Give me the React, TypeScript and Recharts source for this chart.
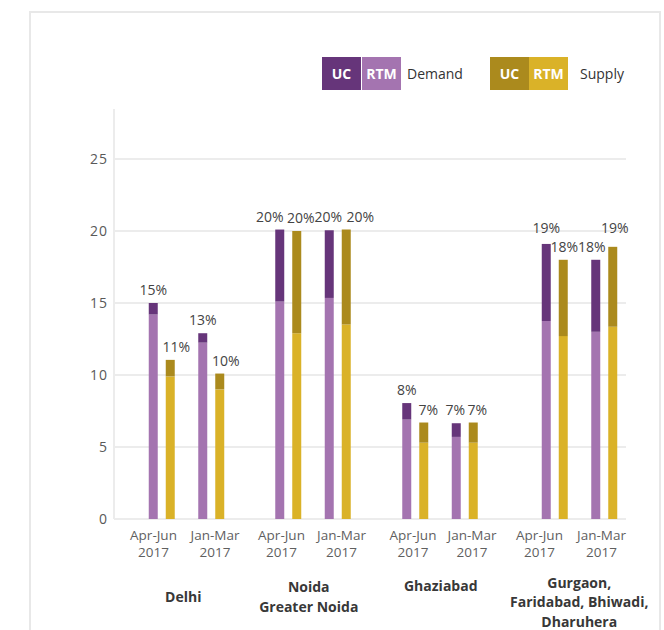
import React from 'react';
import { BarChart, Bar, XAxis, YAxis, CartesianGrid, LabelList } from 'recharts';

// Demand / supply share by micro-market, two periods each

const groupNames = [
  ['Delhi'],
  ['Noida', 'Greater Noida'],
  ['Ghaziabad'],
  ['Gurgaon,', 'Faridabad, Bhiwadi,', 'Dharuhera'],
];
const periodNames = [
  ['Apr-Jun', '2017'],
  ['Jan-Mar', '2017'],
];

// order: Delhi Apr-Jun, Delhi Jan-Mar, Noida Apr-Jun, Noida Jan-Mar, ...
const demandRtm = [14.2, 12.25, 15.1, 15.35, 6.9, 5.7, 13.75, 13.0];
const demandUc = [0.8, 0.65, 5.0, 4.7, 1.15, 0.95, 5.35, 5.0];
const supplyRtm = [9.9, 9.0, 12.9, 13.5, 5.3, 5.3, 12.7, 13.35];
const supplyUc = [1.15, 1.1, 7.1, 6.6, 1.4, 1.4, 5.3, 5.55];
const demandLabels = ['15%', '13%', '20%', '20%', '8%', '7%', '19%', '18%'];
const supplyLabels = ['11%', '10%', '20%', '20%', '7%', '7%', '18%', '19%'];
const yTicks = [0, 5, 10, 15, 20, 25];

// colours
const UC_DEMAND = '#66357a';
const RTM_DEMAND = '#a474b0';
const UC_SUPPLY = '#ab8a1d';
const RTM_SUPPLY = '#dab228';
const FONT = '"Open Sans", "Noto Sans", sans-serif';

// layout (x axis runs in pixels of the plot area)
const PLOT_W = 512;
const GROUP_X = [47.5, 174, 301, 440.5];
const PERIOD_STEP = 49.5;
const TICK_DX = [-8, 4, -6.5, 4, -2, 7.5, -15, -2.5];
const GROUP_DX = [-3, -4, 1, 0];
const GROUP_DY = [83, 73, 72, 68.5];
const GROUP_LINE = 19.5;
const DEMAND_LABEL_DX = [0, 0, -10, -1, 0, -1, 0, -4];
const SUPPLY_LABEL_DX = [6, 6, 4, 14, 4.5, 4, 1, 2];
const DEMAND_LABEL_DY = [0, 0, 0, 0, 0, 0, -3, 0];
const SUPPLY_LABEL_DY = [0, 0, 0, 0, 0, 0, 0, -6];

const data = demandRtm.map((v, i) => ({
  x: GROUP_X[Math.floor(i / 2)] + (i % 2) * PERIOD_STEP,
  demandRtm: v,
  demandUc: demandUc[i],
  supplyRtm: supplyRtm[i],
  supplyUc: supplyUc[i],
  demandLabel: demandLabels[i],
  supplyLabel: supplyLabels[i],
}));
const tickValues = data.map((d) => d.x);

function PeriodTick(props: any) {
  const { x, y, payload } = props;
  const i = tickValues.indexOf(payload.value);
  if (i < 0) return null;
  const lines = periodNames[i % 2];
  const g = Math.floor(i / 2);
  const tx = x + TICK_DX[i];
  const gx = x + PERIOD_STEP / 2 + GROUP_DX[g];
  return (
    <g>
      <text textAnchor="middle" fontFamily={FONT} fontSize={13.5} fill="#5f5f5f">
        <tspan x={tx} y={y + 21}>{lines[0]}</tspan>
        <tspan x={tx} y={y + 38}>{lines[1]}</tspan>
      </text>
      {i % 2 === 0 && (
        <text textAnchor="middle" fontFamily={FONT} fontSize={14} fontWeight={700} fill="#383838">
          {groupNames[g].map((line, k) => (
            <tspan key={k} x={gx} y={y + GROUP_DY[g] + k * GROUP_LINE}>
              {line}
            </tspan>
          ))}
        </text>
      )}
    </g>
  );
}

const valueLabel = (key: 'demandLabel' | 'supplyLabel', dxs: number[], dys: number[]) =>
  function ValueLabel(props: any) {
    const { x, y, width, index } = props;
    const i = typeof index === 'number' ? index : 0;
    return (
      <text
        x={Number(x) + Number(width) / 2 + dxs[i]}
        y={Number(y) - 8 + dys[i]}
        textAnchor="middle"
        fontFamily={FONT}
        fontSize={14}
        fill="#444"
      >
        {data[i][key]}
      </text>
    );
  };

const boxStyle = (left: number, bg: string): React.CSSProperties => ({
  position: 'absolute',
  left,
  top: 57,
  width: 39,
  height: 33,
  background: bg,
  color: '#fff',
  fontFamily: FONT,
  fontWeight: 700,
  fontSize: 14,
  lineHeight: '33px',
  textAlign: 'center',
});

const legendText = (left: number): React.CSSProperties => ({
  position: 'absolute',
  left,
  top: 57,
  height: 33,
  lineHeight: '33px',
  fontFamily: FONT,
  fontSize: 14,
  color: '#333',
});

export default function App() {
  return (
    <div
      style={{
        position: 'absolute',
        left: 0,
        top: 0,
        width: 664,
        height: 630,
        overflow: 'hidden',
        background: '#fff',
      }}
    >
      <div
        style={{
          position: 'absolute',
          left: 29,
          top: 11,
          width: 628,
          height: 700,
          border: '2px solid #e8e8e8',
        }}
      />

      <div style={boxStyle(322, UC_DEMAND)}>UC</div>
      <div style={boxStyle(362, RTM_DEMAND)}>RTM</div>
      <div style={legendText(407)}>Demand</div>
      <div style={boxStyle(490, UC_SUPPLY)}>UC</div>
      <div style={boxStyle(529, RTM_SUPPLY)}>RTM</div>
      <div style={legendText(580)}>Supply</div>

      <div style={{ position: 'absolute', left: 0, top: 0 }}>
        <BarChart
          width={664}
          height={630}
          data={data}
          margin={{ top: 109, right: 38, left: 54, bottom: 6 }}
          barSize={9}
          barGap={8}
        >
          <CartesianGrid
            vertical={false}
            stroke="#ececec"
            strokeWidth={2}
            horizontalValues={yTicks}
          />
          <XAxis
            dataKey="x"
            type="number"
            domain={[0, PLOT_W]}
            ticks={tickValues}
            interval={0}
            axisLine={false}
            tickLine={false}
            tickSize={0}
            tickMargin={0}
            height={105}
            tick={<PeriodTick />}
            allowDataOverflow
          />
          <YAxis
            type="number"
            domain={[0, 28.47]}
            ticks={yTicks}
            width={60}
            axisLine={{ stroke: '#ececec', strokeWidth: 2 }}
            tickLine={false}
            tickSize={0}
            tickMargin={6}
            tick={{ fontSize: 14, fill: '#595959', fontFamily: FONT, letterSpacing: 1 }}
            allowDataOverflow
          />
          <Bar dataKey="demandRtm" stackId="d" fill={RTM_DEMAND} isAnimationActive={false} />
          <Bar dataKey="demandUc" stackId="d" fill={UC_DEMAND} isAnimationActive={false}>
            <LabelList
              dataKey="demandLabel"
              content={valueLabel('demandLabel', DEMAND_LABEL_DX, DEMAND_LABEL_DY)}
            />
          </Bar>
          <Bar dataKey="supplyRtm" stackId="s" fill={RTM_SUPPLY} isAnimationActive={false} />
          <Bar dataKey="supplyUc" stackId="s" fill={UC_SUPPLY} isAnimationActive={false}>
            <LabelList
              dataKey="supplyLabel"
              content={valueLabel('supplyLabel', SUPPLY_LABEL_DX, SUPPLY_LABEL_DY)}
            />
          </Bar>
        </BarChart>
      </div>
    </div>
  );
}
